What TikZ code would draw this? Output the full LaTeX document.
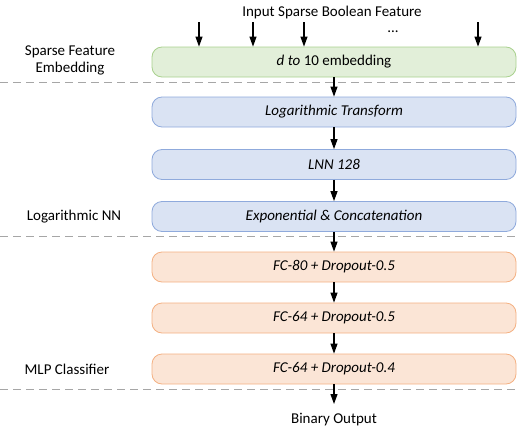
\documentclass[tikz,border=0pt]{standalone}
\usepackage{fontspec}
\setmainfont{Carlito}
\usetikzlibrary{arrows.meta}
\definecolor{embfill}{HTML}{E2EFD9}
\definecolor{embdraw}{HTML}{A9D18E}
\definecolor{lnnfill}{HTML}{DAE3F3}
\definecolor{lnndraw}{HTML}{8FAADC}
\definecolor{mlpfill}{HTML}{FBE5D6}
\definecolor{mlpdraw}{HTML}{F4B183}
\definecolor{sepgray}{HTML}{A6A6A6}
\begin{document}
\begin{tikzpicture}[x=1pt,y=-1pt,
  font=\fontsize{15}{17}\selectfont,
  layer/.style={rectangle, rounded corners=10pt, minimum width=364pt,
    minimum height=30pt, line width=0.8pt, font=\fontsize{15}{17}\selectfont\itshape},
  emb/.style={layer, fill=embfill, draw=embdraw},
  lnn/.style={layer, fill=lnnfill, draw=lnndraw},
  mlp/.style={layer, fill=mlpfill, draw=mlpdraw},
  flow/.style={line width=1.1pt, -{Triangle[width=7pt,length=10pt]}},
  sep/.style={draw=sepgray, line width=1pt, dash pattern=on 8pt off 5pt},
  lbl/.style={align=center, inner sep=0pt}]
\useasboundingbox (0,0) rectangle (517,431);

% section separators
\coordinate (s1a) at (0,82);   \coordinate (s1b) at (517,82);
\coordinate (s2a) at (0,236);  \coordinate (s2b) at (517,236);
\coordinate (s3a) at (0,389);  \coordinate (s3b) at (517,389);
\draw[sep] (s1a) -- (s1b);
\draw[sep] (s2a) -- (s2b);
\draw[sep] (s3a) -- (s3b);

% layers
\node[emb] (emb) at (334,62) {d to \upshape 10 embedding};
\node[lnn] (log) at (334,112) {Logarithmic Transform};
\node[lnn] (lnn) at (334,164.5) {LNN 128};
\node[lnn] (exp) at (334,216.5) {Exponential \& Concatenation};
\node[mlp] (fc1) at (334,267) {FC-80 + Dropout-0.5};
\node[mlp] (fc2) at (334,318) {FC-64 + Dropout-0.5};
\node[mlp] (fc3) at (334,369) {FC-64 + Dropout-0.4};

% section labels
\node[lbl] (lemb) at (70,60) {Sparse Feature\\Embedding};
\node[lbl] (llnn) at (74,217) {Logarithmic NN};
\node[lbl] (lmlp) at (67,369) {MLP Classifier};

% input features
\node[lbl] (input) at (332,13) {Input Sparse Boolean Feature};
\coordinate (i1) at (199,22);
\coordinate (i2) at (253,22);
\coordinate (i3) at (304,22);
\coordinate (i4) at (478,22);
\node[lbl] (dots) at (393,32) {...};
\foreach \i in {i1,i2,i3,i4}
  \draw[flow] (\i) -- (\i |- emb.north);

% output
\coordinate (out) at (334,404);
\node[lbl] (output) at (334,420) {Binary Output};

% data flow
\draw[flow] (emb) -- (log);
\draw[flow] (log) -- (lnn);
\draw[flow] (lnn) -- (exp);
\draw[flow] (exp) -- (fc1);
\draw[flow] (fc1) -- (fc2);
\draw[flow] (fc2) -- (fc3);
\draw[flow] (fc3) -- (out);
\end{tikzpicture}
\end{document}
